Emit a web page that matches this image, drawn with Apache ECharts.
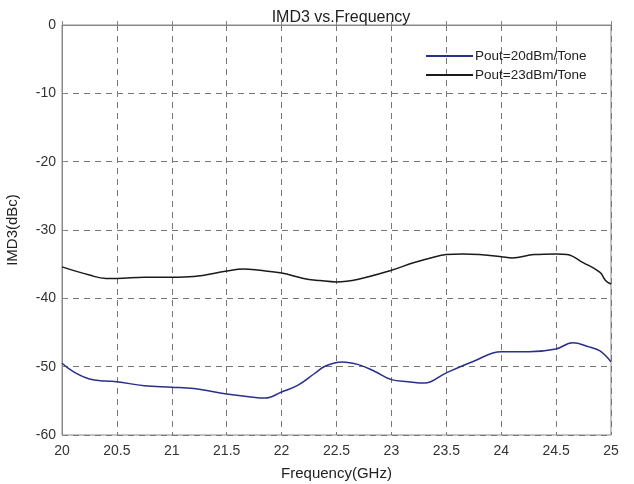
<!DOCTYPE html>
<html><head><meta charset="utf-8">
<script src="https://cdn.jsdelivr.net/npm/echarts@6/dist/echarts.min.js"></script>
<style>html,body{margin:0;padding:0;background:#fff}#c{width:634px;height:484px}</style>
</head><body><div id="c"></div>
<script>
const freq20 = [20,20.1,20.25,20.4,20.5,20.75,21,21.2,21.5,21.7,21.85,22,22.15,22.3,22.4,22.55,22.7,22.85,23,23.15,23.3,23.5,23.75,24,24.25,24.5,24.65,24.8,24.9,25];
const imd20 = [-49.5,-50.7,-51.8,-52.1,-52.2,-52.8,-53.0,-53.2,-54.0,-54.4,-54.6,-53.7,-52.7,-51.0,-49.9,-49.3,-49.7,-50.7,-51.9,-52.2,-52.4,-50.9,-49.2,-47.8,-47.8,-47.4,-46.5,-47.1,-47.7,-49.3];
const freq23 = [20,20.25,20.4,20.5,20.75,21,21.2,21.5,21.65,21.8,22,22.2,22.35,22.5,22.7,23,23.2,23.4,23.5,23.65,23.8,24,24.1,24.3,24.5,24.6,24.75,24.9,24.95,25];
const imd23 = [-35.4,-36.6,-37.1,-37.1,-36.9,-36.9,-36.8,-36.0,-35.7,-35.9,-36.3,-37.1,-37.4,-37.6,-37.2,-35.9,-34.8,-33.9,-33.6,-33.5,-33.6,-33.9,-34.1,-33.6,-33.5,-33.6,-34.8,-36.2,-37.4,-37.9];
const seriesNames = ['Pout=20dBm/Tone','Pout=23dBm/Tone'];
const title = 'IMD3 vs.Frequency';
const xName = 'Frequency(GHz)';
const yName = 'IMD3(dBc)';

const pair = (xs, ys) => xs.map((x, i) => [x, ys[i]]);
const font = 'Liberation Sans';
const chart = echarts.init(document.getElementById('c'));
chart.setOption({
  animation: false,
  backgroundColor: '#fff',
  textStyle: {fontFamily: font},
  title: {text: title, left: 336, top: 5, textAlign: 'center',
    textStyle: {fontFamily: font, fontSize: 16, fontWeight: 'normal', color: '#222'}},
  legend: {
    left: 421, top: 44, orient: 'vertical', itemGap: 5, itemWidth: 47, itemHeight: 2,
    icon: 'rect',
    textStyle: {fontFamily: font, fontSize: 13.5, color: '#222', padding: [0,0,0,-3]},
    data: seriesNames
  },
  grid: {left: 62, right: 23, top: 25, bottom: 49, show: true, borderColor: '#888', borderWidth: 1,
    outerBoundsMode: 'none', containLabel: false},
  xAxis: {
    type: 'value', min: 20, max: 25, interval: 0.5,
    name: xName, nameLocation: 'middle', nameGap: 31,
    nameTextStyle: {fontFamily: font, fontSize: 15, color: '#222'},
    axisLine: {show: true, lineStyle: {color: '#888'}},
    axisTick: {show: true, inside: true, length: 4, lineStyle: {color: '#888'}},
    axisLabel: {fontFamily: font, fontSize: 14, color: '#333', margin: 9},
    splitLine: {show: true, lineStyle: {type: [6, 5], color: '#777', width: 1}}
  },
  yAxis: {
    type: 'value', min: -60, max: 0, interval: 10,
    name: yName, nameLocation: 'middle', nameGap: 42,
    nameTextStyle: {fontFamily: font, fontSize: 15, color: '#222'},
    axisLine: {show: true, lineStyle: {color: '#888'}},
    axisTick: {show: true, inside: true, length: 4, lineStyle: {color: '#888'}},
    axisLabel: {fontFamily: font, fontSize: 14, color: '#333', margin: 6},
    splitLine: {show: true, lineStyle: {type: [6, 5], color: '#777', width: 1}}
  },
  series: [
    {name: seriesNames[0], type: 'line', data: pair(freq20, imd20), smooth: 0.4, showSymbol: false,
     color: '#2a2f8c', lineStyle: {width: 1.5, color: '#2a2f8c'}},
    {name: seriesNames[1], type: 'line', data: pair(freq23, imd23), smooth: 0.4, showSymbol: false,
     color: '#1a1a1a', lineStyle: {width: 1.5, color: '#1a1a1a'}}
  ]
});
</script></body></html>
